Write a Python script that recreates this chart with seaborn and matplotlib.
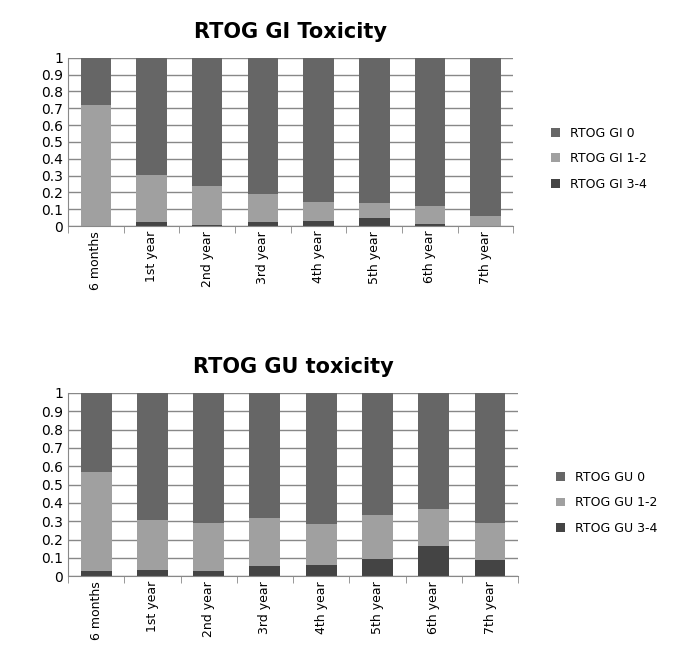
import matplotlib.pyplot as plt
import seaborn as sns
import numpy as np

periods = ["6 months", "1st year", "2nd year", "3rd year", "4th year", "5th year", "6th year", "7th year"]

# GI toxicity (fractions)
gi_34 = [0.0, 0.025, 0.005, 0.025, 0.03, 0.045, 0.01, 0.0]
gi_12 = [0.72, 0.28, 0.235, 0.165, 0.11, 0.09, 0.11, 0.06]
gi_0 = [0.28, 0.695, 0.76, 0.81, 0.86, 0.865, 0.88, 0.94]

# GU toxicity (fractions)
gu_34 = [0.03, 0.035, 0.03, 0.055, 0.06, 0.095, 0.165, 0.09]
gu_12 = [0.54, 0.27, 0.26, 0.265, 0.225, 0.24, 0.2, 0.2]
gu_0 = [0.43, 0.695, 0.71, 0.68, 0.715, 0.665, 0.635, 0.71]

colours = {"0": "#666666", "12": "#a0a0a0", "34": "#444444"}

fig = plt.figure(figsize=(6.8, 6.57), dpi=100)


def draw(rect, title, prefix, s0, s12, s34):
    ax = fig.add_axes(rect)
    sns.barplot(x=periods, y=s34, color=colours["34"], width=0.55, ax=ax,
                saturation=1, label=f"{prefix} 3-4")
    sns.barplot(x=periods, y=s12, bottom=np.array(s34), color=colours["12"], width=0.55,
                ax=ax, saturation=1, label=f"{prefix} 1-2")
    sns.barplot(x=periods, y=s0, bottom=np.array(s34) + np.array(s12), color=colours["0"],
                width=0.55, ax=ax, saturation=1, label=f"{prefix} 0")
    ax.set_ylim(0, 1)
    ax.set_xlim(-0.5, 7.5)
    ax.set_yticks(np.arange(0, 1.01, 0.1))
    ax.set_yticklabels(["0", "0.1", "0.2", "0.3", "0.4", "0.5", "0.6", "0.7", "0.8", "0.9", "1"])
    ax.yaxis.grid(True, color="#888888", linewidth=1)
    ax.set_axisbelow(True)
    for s in ["top", "right"]:
        ax.spines[s].set_visible(False)
    ax.spines["left"].set_color("#888888")
    ax.spines["bottom"].set_color("#888888")
    ax.set_xticks(np.arange(-0.5, 8, 1), minor=True)
    ax.tick_params(axis="x", which="minor", length=5, color="#888888")
    ax.tick_params(axis="x", which="major", rotation=90, labelsize=9, length=0)
    ax.tick_params(axis="y", labelsize=10, length=0)
    ax.set_title(title, fontsize=15, fontweight="bold", pad=14)
    handles, labels = ax.get_legend_handles_labels()
    ax.legend(handles[::-1], labels[::-1], loc="center left", bbox_to_anchor=(1.06, 0.4),
              frameon=False, fontsize=9, handlelength=0.7, handleheight=0.7, labelspacing=1.0)


draw([0.1, 0.656, 0.655, 0.256], "RTOG GI Toxicity", "RTOG GI", gi_0, gi_12, gi_34)
draw([0.1, 0.123, 0.662, 0.279], "RTOG GU toxicity", "RTOG GU", gu_0, gu_12, gu_34)

plt.savefig("out.png", dpi=100)
